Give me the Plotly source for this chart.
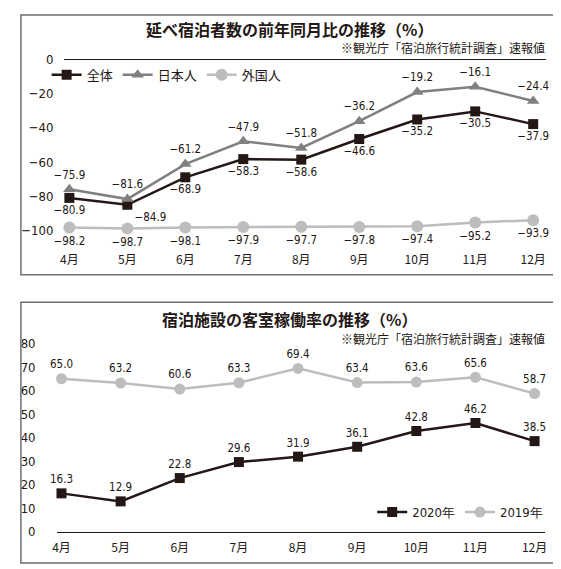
import plotly.graph_objects as go

# Données
months = ["4月", "5月", "6月", "7月", "8月", "9月", "10月", "11月", "12月"]

zentai = [-80.9, -84.9, -68.9, -58.3, -58.6, -46.6, -35.2, -30.5, -37.9]
nihonjin = [-75.9, -81.6, -61.2, -47.9, -51.8, -36.2, -19.2, -16.1, -24.4]
gaikokujin = [-98.2, -98.7, -98.1, -97.9, -97.7, -97.8, -97.4, -95.2, -93.9]

rate_2020 = [16.3, 12.9, 22.8, 29.6, 31.9, 36.1, 42.8, 46.2, 38.5]
rate_2019 = [65.0, 63.2, 60.6, 63.3, 69.4, 63.4, 63.6, 65.6, 58.7]

yticks_top = [0, -20, -40, -60, -80, -100]
yticks_bottom = [0, 10, 20, 30, 40, 50, 60, 70, 80]

title_top = "延べ宿泊者数の前年同月比の推移（%）"
title_bottom = "宿泊施設の客室稼働率の推移（%）"
source = "※観光庁「宿泊旅行統計調査」速報値"

W, H = 561, 569
JP = "Noto Sans CJK JP"
NUM = "DejaVu Sans Condensed, Liberation Sans Narrow, Roboto"
INK = "#231815"


def px_x(p):
    return p / W


def px_y(p):
    return 1 - p / H


def lab(vals):
    return [f"{v:.1f}".replace("-", "−") for v in vals]


fig = go.Figure()

# graphique du haut
fig.add_trace(go.Scatter(
    x=months, y=zentai, name="全体", mode="lines+markers+text",
    line=dict(color=INK, width=2.5),
    marker=dict(symbol="square", size=10, color=INK),
    text=lab(zentai),
    textposition=["bottom center", "bottom right"] + ["bottom center"] * 7,
    textfont=dict(family=NUM, size=11.5, color=INK),
    cliponaxis=False, xaxis="x", yaxis="y", legend="legend",
))
fig.add_trace(go.Scatter(
    x=months, y=nihonjin, name="日本人", mode="lines+markers+text",
    line=dict(color="#808080", width=2.5),
    marker=dict(symbol="triangle-up", size=11, color="#808080"),
    text=lab(nihonjin), textposition="top center",
    textfont=dict(family=NUM, size=11.5, color=INK),
    cliponaxis=False, xaxis="x", yaxis="y", legend="legend",
))
fig.add_trace(go.Scatter(
    x=months, y=gaikokujin, name="外国人", mode="lines+markers+text",
    line=dict(color="#bdbdbd", width=2.5),
    marker=dict(symbol="circle", size=12, color="#bdbdbd"),
    text=lab(gaikokujin), textposition="bottom center",
    textfont=dict(family=NUM, size=11.5, color=INK),
    cliponaxis=False, xaxis="x", yaxis="y", legend="legend",
))

# graphique du bas
fig.add_trace(go.Scatter(
    x=months, y=rate_2020, name="2020年", mode="lines+markers+text",
    line=dict(color=INK, width=2.5),
    marker=dict(symbol="square", size=10, color=INK),
    text=lab(rate_2020), textposition="top center",
    textfont=dict(family=NUM, size=11.5, color=INK),
    cliponaxis=False, xaxis="x2", yaxis="y2", legend="legend2",
))
fig.add_trace(go.Scatter(
    x=months, y=rate_2019, name="2019年", mode="lines+markers+text",
    line=dict(color="#bdbdbd", width=2.5),
    marker=dict(symbol="circle", size=11, color="#bdbdbd"),
    text=lab(rate_2019), textposition="top center",
    textfont=dict(family=NUM, size=11.5, color=INK),
    cliponaxis=False, xaxis="x2", yaxis="y2", legend="legend2",
))

axis_common = dict(showgrid=False, ticks="", fixedrange=True)

fig.update_layout(
    width=W, height=H,
    margin=dict(l=0, r=0, t=0, b=0),
    paper_bgcolor="white", plot_bgcolor="rgba(0,0,0,0)",
    font=dict(family=JP, color=INK),
    xaxis=dict(**axis_common, domain=[px_x(53), px_x(540)],
               range=[-0.085, 8.225], anchor="y",
               tickfont=dict(family=JP, size=12, color=INK),
               ticklabelstandoff=5, showline=False, zeroline=False),
    yaxis=dict(**axis_common, domain=[px_y(240), px_y(45)],
               range=[-109.14, 2.29], anchor="x",
               tickvals=yticks_top,
               tickfont=dict(family=NUM, size=13, color=INK),
               ticklabelstandoff=10, zeroline=True,
               zerolinecolor=INK, zerolinewidth=1.2, showline=False),
    xaxis2=dict(**axis_common, domain=[px_x(45), px_x(539)],
                range=[-0.084, 8.18], anchor="y2",
                tickfont=dict(family=JP, size=12, color=INK),
                ticklabelstandoff=5, showline=True,
                linecolor=INK, linewidth=1.2, zeroline=False),
    yaxis2=dict(**axis_common, domain=[px_y(531), px_y(330)],
                range=[0, 83.75], anchor="x2",
                tickvals=yticks_bottom,
                tickfont=dict(family=NUM, size=13, color=INK),
                ticklabelstandoff=20, zeroline=False, showline=False),
    legend=dict(orientation="h", x=px_x(35), y=px_y(65),
                xanchor="left", yanchor="middle",
                bgcolor="rgba(0,0,0,0)",
                font=dict(family=JP, size=13, color=INK)),
    legend2=dict(orientation="h", x=px_x(542), y=px_y(511),
                 xanchor="right", yanchor="middle",
                 bgcolor="rgba(0,0,0,0)",
                 font=dict(family=NUM, size=13, color=INK)),
    showlegend=True,
)

# cadres
for y0, y1 in [(4, 269), (297, 563)]:
    fig.add_shape(type="rect", xref="paper", yref="paper",
                  x0=px_x(9), x1=px_x(553), y0=px_y(y1), y1=px_y(y0),
                  line=dict(color="#6e6e6e", width=1.5))

# titres
for txt, yc in [(title_top, 18), (title_bottom, 314)]:
    fig.add_annotation(text=f"<b>{txt}</b>", xref="paper", yref="paper",
                       x=px_x(281), y=px_y(yc), showarrow=False,
                       xanchor="center", yanchor="middle",
                       font=dict(family=JP, size=16, color=INK))
for yc in [37, 334]:
    fig.add_annotation(text=source, xref="paper", yref="paper",
                       x=px_x(541), y=px_y(yc), showarrow=False,
                       xanchor="right", yanchor="middle",
                       font=dict(family=JP, size=12, color=INK))

fig.write_html("out.html")
